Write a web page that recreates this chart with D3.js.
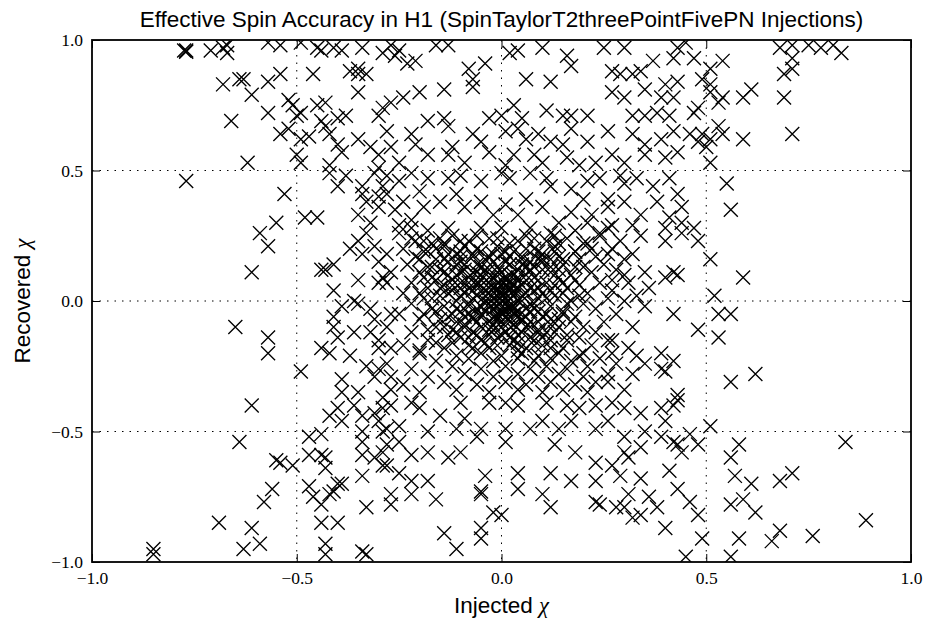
<!DOCTYPE html>
<html>
<head>
<meta charset="utf-8">
<script src="https://cdn.jsdelivr.net/npm/d3@7"></script>
<style>
  html, body { margin: 0; padding: 0; background: #fff; }
  svg { display: block; }
</style>
</head>
<body>
<svg id="chart" width="925" height="619"></svg>
<script>
// Axis ticks and labels
const tickValues = [-1.0, -0.5, 0.0, 0.5, 1.0];
const tickLabels = ["\u22121.0", "\u22120.5", "0.0", "0.5", "1.0"];
const gridValues = [-0.5, 0.0, 0.5];

// Scattered injections away from the central clump: [injected chi, recovered chi]
const outerPoints = [
  [-0.77,0.96],[-0.775,0.96],[-0.77,0.955],[-0.71,0.96],[-0.68,0.97],[-0.67,0.95],[-0.67,0.98],
  [-0.57,0.99],[-0.54,0.98],[-0.49,0.99],[-0.45,0.97],[-0.44,0.96],[-0.41,0.97],[-0.39,0.96],[-0.34,0.97],[-0.29,0.95],
  [-0.68,0.83],[-0.64,0.85],[-0.63,0.85],[-0.57,0.84],[-0.54,0.87],[-0.61,0.79],[-0.57,0.72],[-0.52,0.77],[-0.51,0.75],
  [-0.50,0.71],[-0.49,0.72],[-0.46,0.87],[-0.43,0.76],[-0.45,0.75],[-0.35,0.80],[-0.37,0.88],[-0.35,0.87],[-0.33,0.87],
  [-0.35,0.89],[-0.30,0.71],[-0.29,0.74],[-0.38,0.71],[-0.40,0.70],[-0.43,0.67],[-0.44,0.69],[-0.47,0.63],[-0.49,0.62],
  [-0.54,0.64],[-0.52,0.66],[-0.42,0.64],[-0.40,0.60],[-0.39,0.57],[-0.35,0.62],[-0.32,0.59],[-0.30,0.56],[-0.50,0.56],
  [-0.49,0.53],[-0.66,0.69],[-0.62,0.53],[-0.42,0.49],[-0.40,0.44],[-0.77,0.46],[-0.53,0.41],[-0.31,0.49],[-0.34,0.41],
  [-0.33,0.38],[-0.30,0.36],[-0.35,0.33],[-0.55,0.30],[-0.59,0.26],[-0.48,0.32],[-0.45,0.32],[-0.32,0.30],[-0.29,0.44],[-0.30,0.51],
  [-0.27,0.98],[-0.25,0.96],[-0.26,0.94],[-0.23,0.91],[-0.21,0.92],[-0.16,0.98],[-0.13,0.98],[-0.08,0.89],[-0.04,0.91],
  [-0.07,0.85],[-0.07,0.82],[0.04,0.96],[0.02,0.95],[0.10,0.97],[0.16,0.94],[0.17,0.90],[0.25,0.97],[0.30,0.97],[0.37,0.92],
  [0.42,0.93],[0.06,0.85],[0.12,0.84],[0.27,0.88],[0.29,0.87],[0.32,0.87],[0.34,0.88],[0.27,0.80],[0.30,0.78],[0.35,0.81],
  [0.40,0.83],[0.39,0.78],[-0.27,0.76],[-0.24,0.78],[-0.20,0.80],[-0.14,0.81],
  [0.03,0.75],[-0.03,0.70],[0.00,0.71],[0.05,0.70],[0.11,0.73],[0.15,0.71],[0.17,0.71],[0.21,0.71],[0.32,0.71],[0.35,0.71],[0.38,0.72],[0.41,0.71],
  [-0.28,0.65],[-0.22,0.64],[-0.18,0.69],[-0.14,0.70],[-0.13,0.67],[-0.07,0.64],[-0.05,0.61],[0.01,0.65],[0.04,0.66],[0.06,0.62],
  [0.09,0.64],[0.12,0.61],[0.15,0.60],[0.17,0.66],[0.21,0.61],[0.26,0.65],[0.32,0.64],[0.35,0.60],[0.39,0.62],[0.42,0.65],
  [-0.27,0.59],[-0.25,0.53],[-0.21,0.60],[-0.18,0.56],[-0.13,0.56],[-0.12,0.59],[-0.09,0.53],[-0.03,0.57],[0.01,0.52],[0.03,0.56],
  [0.08,0.56],[0.10,0.53],[0.16,0.55],[0.19,0.52],[0.23,0.53],[0.27,0.56],[0.30,0.53],[0.35,0.56],[0.40,0.55],
  [-0.28,0.48],[-0.25,0.46],[-0.22,0.49],[-0.18,0.47],[-0.13,0.47],[-0.10,0.48],[-0.05,0.46],[0.00,0.49],[0.02,0.47],[0.07,0.49],
  [0.11,0.47],[0.12,0.44],[0.17,0.43],[0.21,0.46],[0.24,0.47],[0.29,0.48],[0.33,0.47],[0.37,0.44],[0.41,0.47],
  [-0.28,0.41],[-0.24,0.38],[-0.20,0.42],[-0.19,0.36],[-0.15,0.38],[-0.11,0.41],[-0.09,0.36],[-0.05,0.38],[-0.02,0.33],[0.01,0.37],
  [0.04,0.33],[0.06,0.39],[0.10,0.36],[0.14,0.30],[0.17,0.34],[0.20,0.39],[0.21,0.30],[0.26,0.36],[0.30,0.38],[0.34,0.33],[0.38,0.38],[0.41,0.32],
  [-0.25,0.29],[-0.22,0.28],[-0.13,0.28],[-0.05,0.28],[0.00,0.28],[0.07,0.28],[0.12,0.26],[0.26,0.28],[0.32,0.29],[0.40,0.28],
  [0.45,0.99],[0.43,0.97],[0.47,0.93],[0.54,0.92],[0.51,0.89],[0.49,0.85],[0.43,0.84],[0.42,0.78],[0.51,0.83],[0.51,0.80],
  [0.54,0.78],[0.53,0.76],[0.59,0.78],[0.61,0.81],[0.69,0.78],[0.68,0.97],[0.71,0.98],[0.75,0.98],[0.78,0.97],[0.81,0.98],
  [0.83,0.95],[0.71,0.93],[0.69,0.87],[0.71,0.89],[0.47,0.72],[0.48,0.74],[0.46,0.64],[0.49,0.64],[0.48,0.61],[0.51,0.62],
  [0.53,0.67],[0.54,0.64],[0.43,0.57],[0.50,0.59],[0.51,0.53],[0.59,0.62],[0.71,0.64],[0.55,0.45],[0.56,0.35],[0.43,0.41],
  [0.44,0.36],[0.44,0.30],[0.47,0.28],
  [-0.57,0.21],[-0.61,0.11],[-0.44,0.12],[-0.43,0.12],[-0.41,0.14],[-0.41,0.04],[-0.35,0.08],[-0.37,0.20],[-0.35,0.23],
  [-0.33,0.26],[-0.34,0.18],[-0.31,0.21],[-0.30,0.15],[-0.29,0.09],[-0.30,0.07],[-0.65,-0.10],[-0.57,-0.14],[-0.57,-0.20],
  [-0.49,-0.27],[-0.41,-0.06],[-0.39,-0.02],[-0.36,0.00],[-0.35,-0.01],[-0.32,-0.03],[-0.31,-0.07],[-0.40,-0.14],[-0.36,-0.12],
  [-0.32,-0.12],[-0.30,-0.15],[-0.30,-0.18],[-0.42,-0.20],[-0.37,-0.21],[-0.33,-0.25],[-0.31,-0.29],[-0.30,-0.26],[-0.39,-0.30],
  [-0.39,-0.35],[-0.35,-0.35],[-0.29,-0.37],[-0.44,-0.18],[-0.41,-0.10],
  [-0.61,-0.40],[-0.40,-0.41],[-0.42,-0.44],[-0.36,-0.40],[-0.39,-0.46],[-0.34,-0.44],[-0.31,-0.43],[-0.29,-0.41],[-0.30,-0.46],
  [-0.29,-0.50],[-0.34,-0.50],[-0.44,-0.51],[-0.47,-0.52],[-0.64,-0.54],[-0.55,-0.61],[-0.54,-0.62],[-0.51,-0.63],[-0.47,-0.59],
  [-0.44,-0.59],[-0.43,-0.60],[-0.43,-0.64],[-0.34,-0.54],[-0.34,-0.59],[-0.31,-0.60],[-0.29,-0.63],[-0.34,-0.67],[-0.29,-0.58],
  [-0.56,-0.72],[-0.58,-0.77],[-0.47,-0.71],[-0.46,-0.75],[-0.44,-0.78],[-0.41,-0.73],[-0.40,-0.70],[-0.39,-0.70],[-0.42,-0.74],
  [-0.33,-0.79],[-0.44,-0.85],[-0.40,-0.85],[-0.69,-0.85],[-0.61,-0.87],[-0.59,-0.93],[-0.63,-0.95],[-0.43,-0.93],[-0.43,-0.97],
  [-0.34,-0.96],[-0.33,-0.97],[-0.85,-0.95],[-0.85,-0.97],
  [-0.27,-0.40],[-0.22,-0.39],[-0.20,-0.41],[-0.15,-0.44],[-0.10,-0.39],[-0.09,-0.45],[-0.03,-0.39],[0.01,-0.39],[0.04,-0.40],
  [0.11,-0.39],[0.16,-0.40],[0.19,-0.41],[0.23,-0.40],[0.27,-0.39],[0.30,-0.41],[0.34,-0.43],[0.39,-0.41],[0.42,-0.40],
  [-0.28,-0.49],[-0.25,-0.48],[-0.18,-0.50],[-0.11,-0.49],[-0.05,-0.49],[0.01,-0.49],[0.07,-0.49],[0.10,-0.46],[0.14,-0.49],
  [0.17,-0.46],[0.23,-0.49],[0.26,-0.46],[0.30,-0.52],[0.35,-0.50],[0.39,-0.52],[0.42,-0.54],
  [-0.28,-0.55],[-0.25,-0.54],[-0.22,-0.59],[-0.18,-0.58],[-0.13,-0.60],[-0.10,-0.58],[-0.06,-0.52],[0.01,-0.54],[0.13,-0.55],
  [0.18,-0.58],[0.23,-0.62],[0.27,-0.63],[0.31,-0.60],[0.30,-0.58],[0.34,-0.56],
  [-0.28,-0.63],[-0.25,-0.66],[-0.22,-0.69],[-0.18,-0.69],[-0.04,-0.67],[0.04,-0.66],[0.12,-0.66],[0.17,-0.69],[0.23,-0.69],
  [0.29,-0.67],[0.34,-0.68],[0.41,-0.65],
  [-0.27,-0.74],[-0.27,-0.78],[-0.22,-0.74],[-0.16,-0.76],[-0.05,-0.73],[-0.05,-0.74],[0.04,-0.72],[0.10,-0.74],[0.12,-0.79],
  [0.23,-0.77],[0.24,-0.78],[0.28,-0.79],[0.31,-0.74],[0.30,-0.79],[0.32,-0.83],[0.34,-0.82],[0.36,-0.75],[0.38,-0.79],[0.43,-0.72],
  [-0.02,-0.81],[0.00,-0.82],[-0.14,-0.89],[-0.05,-0.87],[-0.05,-0.91],[-0.11,-0.95],[0.40,-0.87],
  [0.43,-0.38],[0.40,-0.46],[0.51,-0.48],[0.46,-0.51],[0.43,-0.55],[0.44,-0.58],[0.48,-0.55],[0.58,-0.55],[0.56,-0.60],
  [0.84,-0.54],[0.57,-0.67],[0.61,-0.70],[0.68,-0.69],[0.71,-0.66],[0.46,-0.77],[0.56,-0.78],[0.59,-0.76],[0.62,-0.81],
  [0.48,-0.82],[0.49,-0.91],[0.58,-0.91],[0.66,-0.92],[0.68,-0.88],[0.76,-0.90],[0.89,-0.84],[0.45,-0.98],[0.56,-0.98],
  [0.40,0.23],[0.44,0.26],[0.48,0.23],[0.51,0.16],[0.59,0.09],[0.40,0.09],[0.42,0.11],[0.43,0.10],[0.52,0.02],[0.42,-0.05],
  [0.53,-0.05],[0.56,-0.05],[0.48,-0.11],[0.53,-0.14],[0.39,-0.20],[0.42,-0.23],[0.40,-0.27],[0.62,-0.28],[0.56,-0.31],[0.43,-0.36],
  [0.34,0.25],[0.29,0.23],[0.32,0.18],[0.35,0.11],[0.35,-0.02],[0.32,-0.10],[0.27,-0.15],[0.33,-0.21],[0.35,-0.24],[0.39,-0.26],
  [0.32,-0.28],[0.26,-0.31],[0.30,-0.34],
  [-0.28,0.18],[-0.27,0.11],[-0.28,0.07],[-0.27,-0.05],[-0.28,-0.10],[-0.27,-0.18],[-0.28,-0.24],[-0.27,-0.29],[-0.27,-0.34],
  [0.27,0.20],[0.30,0.16],[0.28,0.12],[0.31,0.07],[0.27,0.04],[0.30,0.00],[0.28,-0.05],[0.31,-0.18],[0.28,-0.24],[0.33,0.02],
  [0.36,0.05],[0.30,0.10]
];

// Dense clump of injections around zero spin
const corePoints = [
  [-0.22,0.24],[-0.17,0.22],[-0.12,0.25],[-0.08,0.23],[-0.03,0.24],[0.02,0.22],[0.06,0.25],[0.11,0.23],[0.16,0.24],[0.20,0.22],[0.24,0.25],
  [-0.24,0.20],[-0.19,0.19],[-0.14,0.21],[-0.10,0.19],[-0.06,0.20],[-0.01,0.21],[0.03,0.19],[0.08,0.20],[0.13,0.21],[0.18,0.19],[0.22,0.20],[0.26,0.18],
  [-0.21,0.17],[-0.16,0.16],[-0.11,0.18],[-0.07,0.17],[-0.04,0.16],[0.00,0.18],[0.05,0.17],[0.09,0.16],[0.14,0.17],[0.19,0.16],[0.23,0.17],
  [-0.23,0.14],[-0.18,0.13],[-0.13,0.15],[-0.09,0.14],[-0.05,0.13],[-0.02,0.15],[0.02,0.14],[0.06,0.13],[0.10,0.15],[0.15,0.14],[0.20,0.13],[0.25,0.14],
  [-0.20,0.11],[-0.15,0.12],[-0.11,0.10],[-0.07,0.11],[-0.04,0.12],[-0.01,0.11],[0.03,0.10],[0.07,0.12],[0.12,0.11],[0.17,0.10],[0.22,0.11],
  [-0.17,0.09],[-0.12,0.08],[-0.08,0.09],[-0.05,0.08],[-0.02,0.09],[0.01,0.08],[0.04,0.09],[0.09,0.08],[0.14,0.09],[0.27,0.08],
  [-0.22,0.07],[-0.14,0.06],[-0.10,0.07],[-0.06,0.06],[-0.03,0.07],[0.00,0.06],[0.02,0.07],[0.05,0.06],[0.11,0.07],[0.19,0.06],[0.24,0.07],
  [-0.18,0.05],[-0.12,0.04],[-0.08,0.05],[-0.04,0.04],[-0.01,0.05],[0.02,0.04],[0.04,0.05],[0.08,0.04],[0.16,0.05],
  [-0.24,0.03],[-0.15,0.02],[-0.09,0.03],[-0.06,0.02],[-0.03,0.03],[-0.01,0.02],[0.01,0.03],[0.03,0.02],[0.06,0.03],[0.13,0.02],[0.21,0.03],
  [-0.19,0.01],[-0.11,0.00],[-0.07,0.01],[-0.04,0.00],[-0.02,0.01],[0.00,0.00],[0.02,0.01],[0.05,0.00],[0.09,0.01],[0.17,0.00],[0.26,0.01],
  [-0.22,-0.01],[-0.14,-0.02],[-0.08,-0.01],[-0.05,-0.02],[-0.03,-0.01],[-0.01,-0.02],[0.01,-0.01],[0.03,-0.02],[0.07,-0.01],[0.12,-0.02],[0.20,-0.01],
  [-0.17,-0.03],[-0.10,-0.04],[-0.06,-0.03],[-0.04,-0.04],[-0.02,-0.03],[0.00,-0.04],[0.02,-0.03],[0.04,-0.04],[0.08,-0.03],[0.15,-0.04],[0.23,-0.03],
  [-0.25,-0.05],[-0.13,-0.06],[-0.08,-0.05],[-0.05,-0.06],[-0.01,-0.05],[0.01,-0.06],[0.03,-0.05],[0.06,-0.06],[0.11,-0.05],[0.18,-0.06],
  [-0.20,-0.07],[-0.11,-0.08],[-0.07,-0.07],[-0.03,-0.08],[-0.01,-0.07],[0.02,-0.08],[0.05,-0.07],[0.09,-0.08],[0.14,-0.07],[0.25,-0.08],
  [-0.16,-0.10],[-0.09,-0.09],[-0.05,-0.10],[-0.02,-0.09],[0.00,-0.10],[0.03,-0.09],[0.07,-0.10],[0.12,-0.09],[0.20,-0.10],
  [-0.22,-0.12],[-0.13,-0.13],[-0.07,-0.12],[-0.03,-0.13],[0.01,-0.12],[0.04,-0.13],[0.09,-0.12],[0.16,-0.13],[0.23,-0.12],
  [-0.18,-0.15],[-0.10,-0.14],[-0.05,-0.15],[-0.01,-0.14],[0.03,-0.15],[0.07,-0.14],[0.12,-0.15],[0.19,-0.14],[0.26,-0.15],
  [-0.24,-0.17],[-0.14,-0.18],[-0.08,-0.17],[-0.03,-0.18],[0.02,-0.17],[0.06,-0.18],[0.10,-0.17],[0.15,-0.18],[0.22,-0.17],
  [-0.20,-0.20],[-0.11,-0.21],[-0.05,-0.20],[0.00,-0.21],[0.05,-0.20],[0.09,-0.21],[0.14,-0.20],[0.19,-0.21],[0.27,-0.20],
  [-0.16,-0.23],[-0.08,-0.22],[-0.02,-0.23],[0.04,-0.22],[0.08,-0.23],[0.12,-0.22],[0.17,-0.23],[0.24,-0.22],
  [-0.22,-0.26],[-0.12,-0.25],[-0.05,-0.26],[0.01,-0.25],[0.07,-0.26],[0.11,-0.25],[0.16,-0.26],[0.21,-0.25],
  [-0.18,-0.29],[-0.09,-0.28],[-0.02,-0.29],[0.04,-0.28],[0.09,-0.29],[0.14,-0.28],[0.20,-0.29],[0.26,-0.28],
  [-0.24,-0.32],[-0.14,-0.31],[-0.06,-0.32],[0.01,-0.31],[0.06,-0.32],[0.12,-0.31],[0.18,-0.32],[0.23,-0.31],
  [-0.20,-0.35],[-0.11,-0.34],[-0.03,-0.35],[0.04,-0.34],[0.10,-0.35],[0.15,-0.34],[0.21,-0.35],
  [0.00,0.11],[0.01,0.09],[-0.01,0.07],[0.02,0.05],[0.00,0.03],[-0.02,0.01],[0.01,-0.01],[0.03,-0.03],[0.00,-0.05],[-0.01,0.13],
  [0.02,0.14],[-0.03,0.09],[0.04,0.08],[-0.04,0.02],[0.04,0.00],[0.02,-0.06],[-0.02,-0.03],[0.05,-0.07],[0.03,-0.09],[-0.05,0.06],
  [0.08,0.09],[0.12,0.13],[0.15,0.16],[0.18,0.19],[0.21,0.22],[0.24,0.26],[0.27,0.29],
  [-0.06,0.07],[-0.10,0.11],[-0.14,0.16],[-0.18,0.19],[-0.21,0.23],[-0.25,0.26],
  [-0.07,-0.06],[-0.12,-0.11],[-0.16,-0.16],[-0.20,-0.19],
  [0.07,-0.08],[0.11,-0.12],[0.16,-0.15],[0.20,-0.20],
  [-0.13,0.10],[-0.09,0.12],[-0.06,0.14],[-0.03,0.12],[0.01,0.15],[0.04,0.12],[0.07,0.15],[0.10,0.12],
  [-0.12,0.06],[-0.08,0.07],[-0.05,0.10],[-0.02,0.05],[0.01,0.06],[0.03,0.04],[0.06,0.08],[0.09,0.05],[0.12,0.04],
  [-0.10,0.02],[-0.07,0.04],[-0.04,-0.01],[-0.01,0.00],[0.02,-0.02],[0.05,0.02],[0.08,-0.01],[0.11,0.01],
  [-0.11,-0.03],[-0.08,-0.02],[-0.05,-0.05],[-0.02,-0.06],[0.01,-0.04],[0.04,-0.06],[0.07,-0.04],[0.10,-0.06],
  [-0.09,-0.10],[-0.06,-0.08],[-0.03,-0.11],[0.00,-0.08],[0.03,-0.11],[0.06,-0.10],[0.09,-0.11],
  [-0.08,-0.14],[-0.04,-0.16],[0.00,-0.13],[0.04,-0.16],[0.08,-0.15],
  [-0.11,0.14],[-0.07,0.18],[-0.03,0.17],[0.01,0.19],[0.05,0.16],[0.09,0.19],
  [-0.16,0.08],[-0.17,0.01],[-0.15,-0.07],[0.15,0.07],[0.16,-0.01],[0.14,-0.10],
  [-0.01,0.04],[0.01,0.01],[-0.02,-0.01],[0.00,0.08],[0.02,0.10],[-0.03,0.05],[0.03,0.06],[0.01,-0.03],[-0.01,-0.06],[0.00,0.02],
  [-0.42,0.52],[-0.38,0.48],[-0.34,0.44],[-0.30,0.40],[-0.26,0.35],[-0.22,0.31],[-0.18,0.27],[-0.14,0.22],[-0.10,0.17],
  [0.06,0.10],[0.10,0.16],[0.14,0.22],[0.18,0.27],[0.22,0.33],[0.26,0.39],[0.30,0.45],
  [-0.16,0.20],[-0.13,0.18],[-0.09,0.21],[-0.05,0.19],[-0.02,0.18],[0.02,0.17],[0.06,0.20],[0.10,0.18],[0.13,0.19],
  [-0.17,0.13],[-0.14,0.11],[-0.10,0.15],[-0.06,0.11],[0.05,0.14],[0.08,0.13],[0.12,0.16],[0.14,0.12],
  [-0.15,0.05],[-0.13,0.03],[-0.10,0.05],[0.07,0.05],[0.10,0.03],[0.13,0.06],[0.15,0.03],
  [-0.16,-0.04],[-0.12,-0.05],[-0.09,-0.06],[0.06,-0.03],[0.09,-0.04],[0.12,-0.07],[0.15,-0.05],
  [-0.14,-0.10],[-0.11,-0.12],[-0.06,-0.13],[-0.02,-0.11],[0.02,-0.14],[0.05,-0.12],[0.10,-0.14],[0.13,-0.12],
  [-0.12,-0.16],[-0.07,-0.18],[-0.01,-0.17],[0.04,-0.19],[0.08,-0.17],[0.12,-0.18],
  [-0.19,0.23],[-0.15,0.24],[-0.10,0.23],[-0.06,0.25],[-0.01,0.24],[0.04,0.23],[0.08,0.24],[0.13,0.25],
  [-0.20,0.16],[-0.19,0.09],[-0.20,0.03],[-0.19,-0.05],[-0.18,-0.11],[0.18,0.13],[0.18,0.08],[0.19,0.02],[0.17,-0.08]
];

const points = outerPoints.concat(corePoints);

const W = 925, H = 619;
const margin = { left: 92, right: 14, top: 40, bottom: 57 };
const plotW = W - margin.left - margin.right;
const plotH = H - margin.top - margin.bottom;

const svg = d3.select("#chart");
const x = d3.scaleLinear().domain([-1, 1]).range([0, plotW]);
const y = d3.scaleLinear().domain([-1, 1]).range([plotH, 0]);

const g = svg.append("g").attr("transform", `translate(${margin.left},${margin.top})`);

const clipId = "plot-clip";
svg.append("defs").append("clipPath").attr("id", clipId)
  .append("rect").attr("width", plotW).attr("height", plotH);

// Dotted grid
const grid = g.append("g").attr("class", "grid");
grid.selectAll("line.gx").data(gridValues).join("line")
  .attr("x1", d => x(d)).attr("x2", d => x(d))
  .attr("y1", 0).attr("y2", plotH)
  .attr("stroke", "#000").attr("stroke-width", 1).attr("stroke-dasharray", "1.5,6");
grid.selectAll("line.gy").data(gridValues).join("line")
  .attr("y1", d => y(d)).attr("y2", d => y(d))
  .attr("x1", 0).attr("x2", plotW)
  .attr("stroke", "#000").attr("stroke-width", 1).attr("stroke-dasharray", "1.5,6");

// X markers
const r = 7;
const cross = `M${-r},${-r}L${r},${r}M${-r},${r}L${r},${-r}`;
g.append("g").attr("clip-path", `url(#${clipId})`)
  .selectAll("path").data(points).join("path")
  .attr("transform", d => `translate(${x(d[0])},${y(d[1])})`)
  .attr("d", cross)
  .attr("fill", "none").attr("stroke", "#000").attr("stroke-width", 1.35);

// Axes with inward ticks on all four sides
const fmt = (d) => tickLabels[tickValues.indexOf(d)];
const tickLen = 8;
function styleAxis(sel) {
  sel.select(".domain").remove();
  sel.selectAll(".tick line").attr("stroke", "#000").attr("stroke-width", 1);
  sel.selectAll(".tick text")
    .attr("font-family", "'Liberation Serif', 'DejaVu Serif', serif")
    .attr("font-size", 17.5).attr("fill", "#000");
}
g.append("g").attr("transform", `translate(0,${plotH})`)
  .call(d3.axisBottom(x).tickValues(tickValues).tickFormat(fmt).tickSizeInner(-tickLen).tickSizeOuter(0).tickPadding(10))
  .call(styleAxis);
g.append("g")
  .call(d3.axisTop(x).tickValues(tickValues).tickSizeInner(-tickLen).tickSizeOuter(0).tickFormat(""))
  .call(styleAxis);
g.append("g")
  .call(d3.axisLeft(y).tickValues(tickValues).tickFormat(fmt).tickSizeInner(-tickLen).tickSizeOuter(0).tickPadding(9))
  .call(styleAxis);
g.append("g").attr("transform", `translate(${plotW},0)`)
  .call(d3.axisRight(y).tickValues(tickValues).tickSizeInner(-tickLen).tickSizeOuter(0).tickFormat(""))
  .call(styleAxis);

// Frame
g.append("rect").attr("width", plotW).attr("height", plotH)
  .attr("fill", "none").attr("stroke", "#000").attr("stroke-width", 1.8);

// Title and axis labels
const sans = "'Liberation Sans', Arial, Helvetica, sans-serif";
svg.append("text").attr("x", margin.left + plotW / 2).attr("y", 27)
  .attr("text-anchor", "middle").attr("font-family", sans).attr("font-size", 22.5)
  .text("Effective Spin Accuracy in H1 (SpinTaylorT2threePointFivePN Injections)");

const xl = svg.append("text").attr("x", margin.left + plotW / 2).attr("y", 613)
  .attr("text-anchor", "middle").attr("font-family", sans).attr("font-size", 22.5);
xl.append("tspan").text("Injected ");
xl.append("tspan").attr("font-family", "'Liberation Serif', serif").attr("font-style", "italic").text("\u03c7");

const yl = svg.append("text")
  .attr("transform", `translate(30,${margin.top + plotH / 2}) rotate(-90)`)
  .attr("text-anchor", "middle").attr("font-family", sans).attr("font-size", 22.5);
yl.append("tspan").text("Recovered ");
yl.append("tspan").attr("font-family", "'Liberation Serif', serif").attr("font-style", "italic").text("\u03c7");
</script>
</body>
</html>
